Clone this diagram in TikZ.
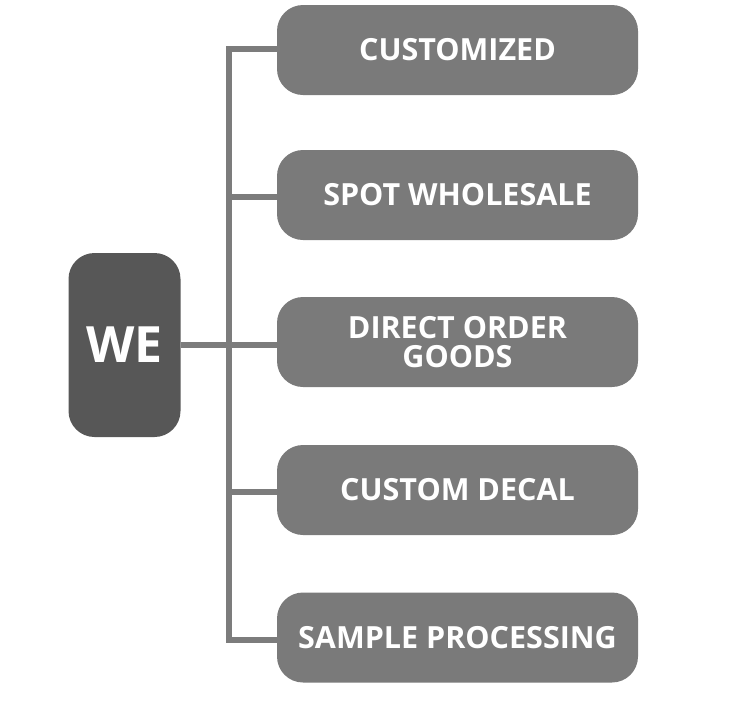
\documentclass[tikz,border=0pt]{standalone}
\usepackage{fontspec}
\setmainfont{Open Sans}
\definecolor{boxgray}{HTML}{7A7A7A}
\definecolor{darkgray}{HTML}{575757}
\definecolor{linegray}{HTML}{7C7C7C}
\begin{document}
\begin{tikzpicture}[x=1pt,y=-1pt,
  item/.style={draw=none,fill=boxgray,rounded corners=26pt,minimum width=361pt,minimum height=90pt,
    text=white,font=\fontsize{30.5}{29}\selectfont\bfseries,align=center,inner sep=0pt},
  root/.style={fill=darkgray,rounded corners=26pt,minimum width=112pt,minimum height=184pt,
    text=white,font=\fontsize{50}{56}\selectfont\bfseries,inner sep=0pt},
  conn/.style={draw=linegray,line width=6pt}]
\useasboundingbox (0,0) rectangle (750,724);
\node[root] (we) at (124.5,345) {\raisebox{-4pt}{WE}};
\node[item] (b1) at (457.5,50) {CUSTOMIZED};
\node[item] (b2) at (457.5,195) {SPOT WHOLESALE};
\node[item] (b3) at (457.5,342) {\raisebox{-2pt}{DIRECT ORDER}\\\raisebox{-2pt}{GOODS}};
\node[item] (b4) at (457.5,490) {CUSTOM DECAL};
\node[item] (b5) at (457.5,637.5) {SAMPLE PROCESSING};
\coordinate (top) at (228.5,49);
\coordinate (bot) at (228.5,640);
\draw[conn,line cap=rect] (b1.west |- top) -- (top) -- (bot) -- (b5.west |- bot);
\draw[conn] (228.5,197) -- (b2.west |- 0,197);
\draw[conn] (228.5,492) -- (b4.west |- 0,492);
\draw[conn] (we.east |- 0,345) -- (b3.west |- 0,345);
\end{tikzpicture}
\end{document}
